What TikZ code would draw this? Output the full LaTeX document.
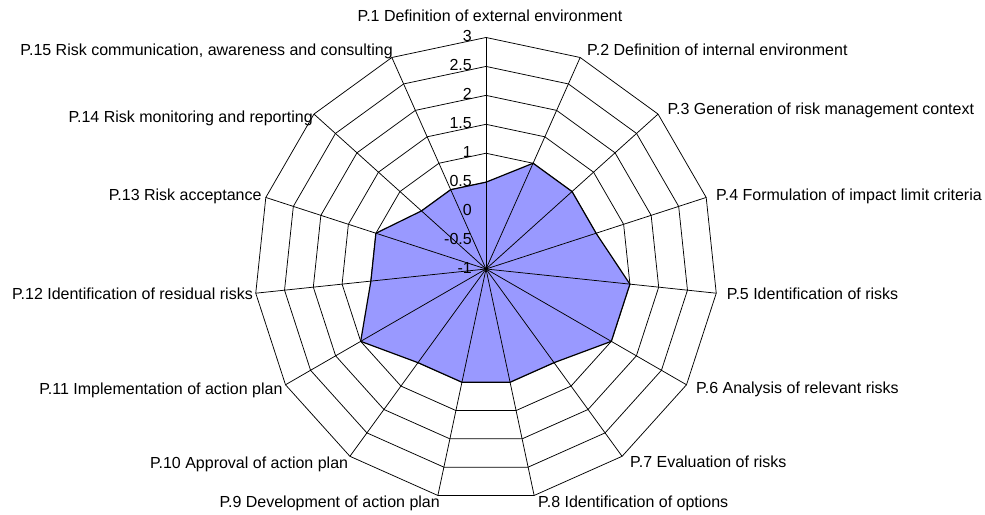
\documentclass[tikz,border=0pt]{standalone}
\usepackage{fontspec}
\setmainfont{Liberation Sans}
\definecolor{areafill}{HTML}{9999FF}
\begin{document}
\begin{tikzpicture}[x=1pt,y=-1pt,
  gridline/.style={draw=black,line width=0.75pt},
  areapoly/.style={fill=areafill,draw=black,line width=1.2pt,line join=miter},
  ticklabel/.style={anchor=east,inner sep=0pt,text height=11.5pt,text depth=3.4pt,font=\fontsize{16}{18}\selectfont},
  axlabel/.style={inner sep=0pt,text height=11.5pt,text depth=3.4pt,font=\fontsize{16}{18}\selectfont}]
\useasboundingbox (0,0) rectangle (985,514);
\fill[white] (0,0) rectangle (985,514);
\begin{scope}[shift={(486,269)}]
  \coordinate (O) at (0,0);
  \foreach \i in {1,...,15}{
    \foreach \k in {1,...,8}{
      \coordinate (g\i-\k) at ({-90+24*(\i-1)}:{\k*28.94});
    }
  }
  % rings
  \foreach \k in {1,...,8}{
    \draw[gridline] (g1-\k) -- (g2-\k) -- (g3-\k) -- (g4-\k) -- (g5-\k) -- (g6-\k) -- (g7-\k) -- (g8-\k) -- (g9-\k) -- (g10-\k) -- (g11-\k) -- (g12-\k) -- (g13-\k) -- (g14-\k) -- (g15-\k) -- cycle;
  }
  % data
  \foreach \i/\v in {1/0.5,2/1,3/1,4/1,5/1.5,6/1.5,7/1,8/1,9/1,10/1,11/1.5,12/1,13/1,14/0.5,15/0.5}{
    \coordinate (d\i) at ({-90+24*(\i-1)}:{(\v+1)*57.88});
  }
  \draw[areapoly] (d1) -- (d2) -- (d3) -- (d4) -- (d5) -- (d6) -- (d7) -- (d8) -- (d9) -- (d10) -- (d11) -- (d12) -- (d13) -- (d14) -- (d15) -- cycle;
  % spokes
  \foreach \i in {1,...,15}{
    \draw[gridline] (O) -- (g\i-8);
  }
  \fill[black] (O) circle (1.6);
\end{scope}
% tick labels
\foreach \k/\t in {0/-1,1/-0.5,2/0,3/0.5,4/1,5/1.5,6/2,7/2.5,8/3}{
  \node[ticklabel] (t\k) at (472,{269-\k*28.94}) {\t};
}
% axis labels
\node[axlabel,anchor=center] (l1) at (490,17) {P.1 Definition of external environment};
\node[axlabel,anchor=west] (l2) at (587,51.7) {P.2 Definition of internal environment};
\node[axlabel,anchor=west] (l3) at (667.3,110) {P.3 Generation of risk management context};
\node[axlabel,anchor=west] (l4) at (716,196.7) {P.4 Formulation of impact limit criteria};
\node[axlabel,anchor=west] (l5) at (726.7,295) {P.5 Identification of risks};
\node[axlabel,anchor=west] (l6) at (696,389) {P.6 Analysis of relevant risks};
\node[axlabel,anchor=west] (l7) at (630,463.3) {P.7 Evaluation of risks};
\node[axlabel,anchor=west] (l8) at (538,503) {P.8 Identification of options};
\node[axlabel,anchor=east] (l9) at (440,503) {P.9 Development of action plan};
\node[axlabel,anchor=east] (l10) at (348.3,464) {P.10 Approval of action plan};
\node[axlabel,anchor=east] (l11) at (282.7,390) {P.11 Implementation of action plan};
\node[axlabel,anchor=east] (l12) at (253,295) {P.12 Identification of residual risks};
\node[axlabel,anchor=east] (l13) at (261.7,196) {P.13 Risk acceptance};
\node[axlabel,anchor=east] (l14) at (313,118) {P.14 Risk monitoring and reporting};
\node[axlabel,anchor=east] (l15) at (393,51.7) {P.15 Risk communication, awareness and consulting};
\end{tikzpicture}
\end{document}
